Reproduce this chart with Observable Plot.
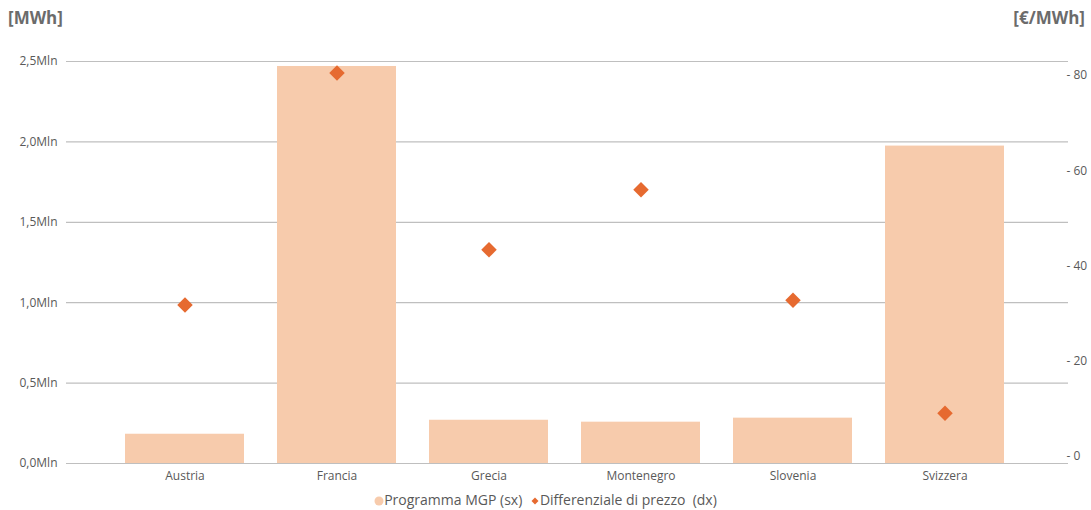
<!DOCTYPE html>
<html>
<head>
<meta charset="utf-8">
<script src="https://cdn.jsdelivr.net/npm/d3@7"></script>
<script src="https://cdn.jsdelivr.net/npm/@observablehq/plot@0.6"></script>
<style>
  body { margin: 0; background: #fff; font-family: "Open Sans", sans-serif; }
  #wrap { position: relative; width: 1091px; height: 510px; }
  .ttl { position: absolute; top: 6px; font-weight: bold; font-size: 17px; color: #6b6b6b; }
  #legend { position: absolute; top: 490px; left: 0; width: 1091px; text-align: center; font-size: 14px; color: #595959; }
  #legend span.item { margin: 0 2px; }
  svg { position: absolute; top: 0; left: 0; }
</style>
</head>
<body>
<div id="wrap">
  <div class="ttl" style="left:8px">[MWh]</div>
  <div class="ttl" style="right:6px">[€/MWh]</div>
  <div id="chart"></div>
  <div id="legend">
    <span class="item"><svg width="10" height="10" style="position:static;vertical-align:-1px"><circle cx="5" cy="5" r="4.5" fill="#F7CBAC"/></svg>Programma MGP (sx)</span>
    <span class="item"><svg width="10" height="10" style="position:static;vertical-align:-1px"><path d="M5 1.5 L8.5 5 L5 8.5 L1.5 5Z" fill="#E66A30"/></svg>Differenziale di prezzo&nbsp; (dx)</span>
  </div>
</div>
<script>
const countries = ["Austria", "Francia", "Grecia", "Montenegro", "Slovenia", "Svizzera"];
const programmaMGP = [182000, 2469000, 269000, 257000, 282000, 1974000];
const differenziale = [31.8, 80.5, 43.4, 56.0, 32.8, 9.1];
const leftTicks = [0, 500000, 1000000, 1500000, 2000000, 2500000];
const rightTicks = [0, 20, 40, 60, 80];

// dual axis mapping: €/MWh -> left (MWh) scale units
const rOffset = 43500, rPerUnit = 29620;
const toLeft = v => rOffset + v * rPerUnit;
const fromLeft = y => (y - rOffset) / rPerUnit;

const data = countries.map((c, i) => ({c, mgp: programmaMGP[i], diff: differenziale[i]}));

const txt = "#595959";
const plot = Plot.plot({
  width: 1091,
  height: 490,
  marginLeft: 66,
  marginRight: 23,
  marginTop: 61,
  marginBottom: 27,
  style: {fontFamily: "'Open Sans', sans-serif", fontSize: "12px", color: txt, background: "transparent"},
  x: {domain: countries, range: [107.5, 1021.3], paddingInner: 0.215, paddingOuter: 0.1075, label: null},
  y: {domain: [0, 2500000], label: null},
  marks: [
    Plot.ruleY(leftTicks, {stroke: "#BFBFBF", strokeWidth: 1.2}),
    Plot.barY(data, {x: "c", y: "mgp", fill: "#F7CBAC"}),
    Plot.dot(data, {x: "c", y: d => toLeft(d.diff), symbol: "diamond2", r: 7, fill: "#E66A30"}),
    Plot.axisX({tickSize: 0, tickPadding: 8, fontSize: 12, fill: txt}),
    Plot.axisY({anchor: "left", ticks: leftTicks, tickSize: 0, tickPadding: 9, label: null, fill: txt,
      tickFormat: d => (d / 1e6).toFixed(1).replace(".", ",") + "Mln"}),
    Plot.axisY({anchor: "right", ticks: rightTicks.map(toLeft), tickSize: 0, tickPadding: -2, label: null, fill: txt,
      tickFormat: d => "- " + Math.round(fromLeft(d))})
  ]
});
document.getElementById("chart").appendChild(plot);
</script>
</body>
</html>
